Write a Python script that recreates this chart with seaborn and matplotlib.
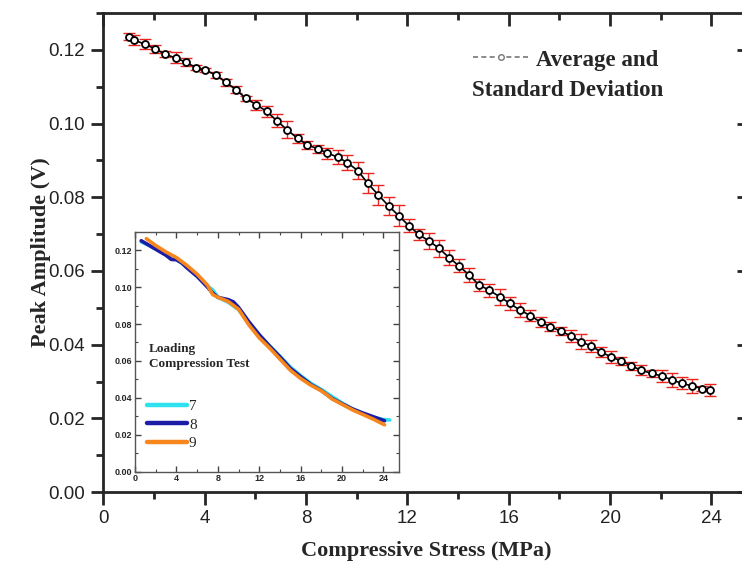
import pandas as pd
import matplotlib.pyplot as plt
import seaborn as sns
from matplotlib.lines import Line2D
from matplotlib.ticker import MultipleLocator

# averaged peak amplitude with standard deviation
stress = [1.03, 1.22, 1.65, 2.05, 2.45, 2.86, 3.25, 3.65, 4.03, 4.44, 4.85, 5.24, 5.64, 6.05,
          6.45, 6.85, 7.26, 7.67, 8.06, 8.46, 8.85, 9.25, 9.64, 10.05, 10.44, 10.86, 11.26, 11.66,
          12.06, 12.46, 12.86, 13.25, 13.65, 14.04, 14.44, 14.83, 15.23, 15.65, 16.05, 16.44,
          16.86, 17.26, 17.65, 18.05, 18.45, 18.84, 19.24, 19.63, 20.03, 20.45, 20.84, 21.23,
          21.64, 22.05, 22.45, 22.85, 23.24, 23.64, 23.95]
amp_mean = [0.1236, 0.1227, 0.1215, 0.1203, 0.1188, 0.1178, 0.1167, 0.1152, 0.1145, 0.1132,
            0.1112, 0.1092, 0.1068, 0.1051, 0.1033, 0.1008, 0.0983, 0.0960, 0.0942, 0.0932,
            0.0920, 0.0909, 0.0894, 0.0872, 0.0838, 0.0806, 0.0777, 0.0750,
            0.0723, 0.0699, 0.0681, 0.0662, 0.0636, 0.0614, 0.0589, 0.0562, 0.0548, 0.0530,
            0.0512, 0.0494, 0.0479, 0.0461, 0.0449, 0.0437, 0.0424, 0.0408, 0.0397, 0.0381,
            0.0367, 0.0356, 0.0342, 0.0331, 0.0322, 0.0315, 0.0304, 0.0295, 0.0288, 0.0281, 0.0277]
amp_std = [0.0010, 0.0014, 0.0014, 0.0011, 0.0008, 0.0015, 0.0010, 0.0008, 0.0006, 0.0009,
           0.0009, 0.0009, 0.0006, 0.0013, 0.0016, 0.0017, 0.0023, 0.0013, 0.0010, 0.0011,
           0.0015, 0.0018, 0.0021, 0.0023, 0.0027, 0.0026, 0.0025, 0.0028,
           0.0018, 0.0016, 0.0022, 0.0023, 0.0021, 0.0018, 0.0018, 0.0015, 0.0018, 0.0021,
           0.0018, 0.0020, 0.0014, 0.0014, 0.0012, 0.0010, 0.0017, 0.0020, 0.0017, 0.0014,
           0.0016, 0.0011, 0.0011, 0.0014, 0.0010, 0.0016, 0.0020, 0.0016, 0.0019, 0.0008, 0.0016]

# individual loading tests (inset)
x7 = [0.6, 1.0, 2.0, 3.0, 4.0, 5.0, 6.0, 7.0, 7.5, 8.0, 9.0, 10.0, 11.0, 12.0, 13.0, 14.0,
      15.0, 16.0, 17.0, 18.0, 19.0, 20.0, 21.0, 22.0, 23.0, 24.0, 24.6]
y7 = [0.1245, 0.1235, 0.1208, 0.1180, 0.1150, 0.1110, 0.1060, 0.1005, 0.0985, 0.0945, 0.0918,
      0.0878, 0.0805, 0.0740, 0.0682, 0.0625, 0.0567, 0.0520, 0.0478, 0.0445, 0.0408, 0.0372,
      0.0340, 0.0315, 0.0295, 0.0282, 0.0280]
x8 = [0.6, 1.0, 2.0, 3.0, 3.5, 4.0, 4.5, 5.0, 6.0, 7.0, 7.5, 8.0, 8.5, 9.0, 9.5, 10.0, 11.0,
      12.0, 13.0, 14.0, 15.0, 16.0, 17.0, 18.0, 19.0, 20.0, 21.0, 22.0, 23.0, 24.1]
y8 = [0.1251, 0.1238, 0.1205, 0.1172, 0.1150, 0.1148, 0.1132, 0.1105, 0.1058, 0.1000, 0.0968,
      0.0945, 0.0938, 0.0932, 0.0920, 0.0890, 0.0812, 0.0742, 0.0680, 0.0622, 0.0560, 0.0515,
      0.0472, 0.0440, 0.0398, 0.0368, 0.0340, 0.0318, 0.0298, 0.0276]
x9 = [1.1, 2.0, 3.0, 4.0, 5.0, 6.0, 7.0, 7.5, 8.0, 9.0, 10.0, 11.0, 12.0, 13.0, 14.0, 15.0,
      16.0, 17.0, 18.0, 18.5, 19.0, 20.0, 21.0, 22.0, 23.0, 24.1]
y9 = [0.1262, 0.1225, 0.1190, 0.1160, 0.1118, 0.1070, 0.1010, 0.0960, 0.0945, 0.0922, 0.0880,
      0.0795, 0.0725, 0.0670, 0.0610, 0.0550, 0.0505, 0.0468, 0.0438, 0.0418, 0.0395, 0.0365,
      0.0335, 0.0310, 0.0285, 0.0254]
test_names = ["7", "8", "9"]
test_colors = ["#30e2f0", "#1c1ca6", "#f7861c"]

sns.set_style("ticks")
plt.rcParams['font.family'] = ['Liberation Sans', 'DejaVu Sans']
serif = ['Liberation Serif', 'DejaVu Serif']

fig = plt.figure(figsize=(7.42, 5.65), dpi=100)
ax = fig.add_axes([0.139, 0.129, 0.871, 0.848])

main_df = pd.DataFrame({"stress": stress, "amp": amp_mean, "std": amp_std})
ax.errorbar(main_df["stress"], main_df["amp"], yerr=main_df["std"], fmt="none",
            ecolor="#e8261f", elinewidth=1.0, capsize=4, capthick=1.0, zorder=2)
sns.lineplot(data=main_df, x="stress", y="amp", ax=ax, color="black", lw=1.2,
             marker="o", markersize=5, markerfacecolor="white", markeredgecolor="black",
             markeredgewidth=1.3, zorder=3)

ax.set_xlim(0, 25.5)
ax.set_ylim(0, 0.13)
ax.xaxis.set_major_locator(MultipleLocator(4))
ax.xaxis.set_minor_locator(MultipleLocator(2))
ax.set_yticks([0, 0.02, 0.04, 0.06, 0.08, 0.10, 0.12])
ax.set_yticklabels(["0.00", "0.02", "0.04", "0.06", "0.08", "0.10", "0.12"])
ax.yaxis.set_minor_locator(MultipleLocator(0.01))
for sp in ax.spines.values():
    sp.set_linewidth(2)
ax.tick_params(axis="both", which="major", direction="out", length=9, width=2,
               labelsize=13.5, pad=4, labelcolor="#222222")
ax.tick_params(axis="both", which="minor", direction="out", length=5, width=2)
ax.tick_params(axis="x", which="both", top=True)
ax.tick_params(axis="y", which="both", right=True)
for t in ax.xaxis.get_major_ticks() + ax.xaxis.get_minor_ticks():
    t.tick2line.set_marker(3)
for t in ax.yaxis.get_major_ticks() + ax.yaxis.get_minor_ticks():
    t.tick2line.set_marker(0)
ax.set_xlabel("Compressive Stress (MPa)", family=serif, fontweight="bold", fontsize=16, labelpad=10)
ax.set_ylabel("Peak Amplitude (V)", family=serif, fontweight="bold", fontsize=16, labelpad=-2)

avg_handle = Line2D([], [], color="#777777", lw=1.2, ls=(0, (3, 2)), marker="o",
                    markersize=4, markerfacecolor="white", markeredgecolor="#777777")
ax.legend(handles=[avg_handle], labels=["Average and"], loc="center left",
          bbox_to_anchor=(473 / 742, 1 - 60 / 565), bbox_transform=fig.transFigure,
          frameon=False, borderpad=0, borderaxespad=0, handlelength=2.45, handletextpad=0.28,
          prop={"family": serif, "weight": "bold", "size": 16.5})
fig.text(472 / 742, 1 - 91 / 565, "Standard Deviation", family=serif, fontweight="bold",
         fontsize=16.5, ha="left", va="center")

# inset
ins = fig.add_axes([135 / 742, 1 - 471.7 / 565, 264 / 742, 240 / 565])
ins_df = pd.concat([
    pd.DataFrame({"stress": x7, "amp": y7, "test": "7"}),
    pd.DataFrame({"stress": x8, "amp": y8, "test": "8"}),
    pd.DataFrame({"stress": x9, "amp": y9, "test": "9"}),
])
sns.lineplot(data=ins_df, x="stress", y="amp", hue="test", hue_order=test_names,
             palette=dict(zip(test_names, test_colors)), sort=False, lw=2.6, ax=ins)
ins.set_xlim(0, 25.5)
ins.set_ylim(0, 0.13)
ins.xaxis.set_major_locator(MultipleLocator(4))
ins.xaxis.set_minor_locator(MultipleLocator(2))
ins.set_yticks([0, 0.02, 0.04, 0.06, 0.08, 0.10, 0.12])
ins.set_yticklabels(["0.00", "0.02", "0.04", "0.06", "0.08", "0.10", "0.12"])
ins.yaxis.set_minor_locator(MultipleLocator(0.01))
for sp in ins.spines.values():
    sp.set_linewidth(1.0)
    sp.set_color("#555555")
ins.tick_params(axis="both", which="major", direction="in", length=4, width=1,
                labelsize=6.5, pad=2, top=True, right=True, color="#444444")
ins.tick_params(axis="both", which="minor", direction="in", length=2, width=0.8,
                top=True, right=True, color="#444444")
for lab in ins.get_xticklabels() + ins.get_yticklabels():
    lab.set_fontweight("bold")
ins.set_xlabel("")
ins.set_ylabel("")

ins.text(0.053, 0.536, "Loading\nCompression Test", transform=ins.transAxes,
         family=serif, fontweight="bold", fontsize=9.5, ha="left", va="top", linespacing=1.35)
leg = ins.legend(loc="upper left", bbox_to_anchor=(0.045, 0.30), frameon=False, borderpad=0,
                 borderaxespad=0, handlelength=2.6, handletextpad=0.15, labelspacing=0.3,
                 prop={"family": serif, "size": 11})
for h in leg.get_lines():
    h.set_linewidth(3.2)

fig.savefig("out.png", dpi=100)
